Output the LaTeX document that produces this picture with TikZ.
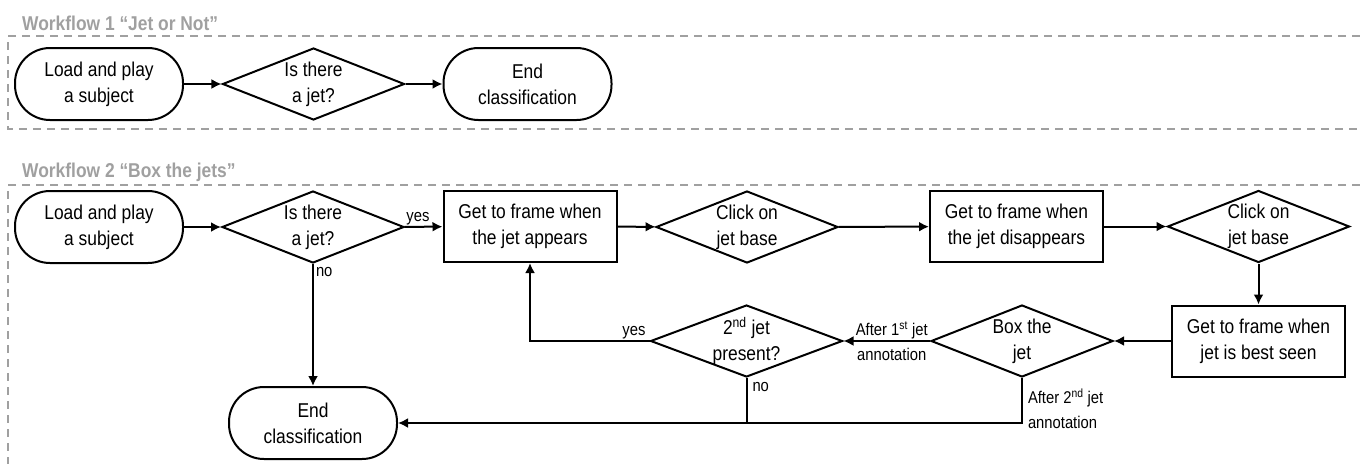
\documentclass[tikz,border=0pt]{standalone}
\usepackage{fontspec}
\setmainfont{Liberation Sans}[FakeStretch=0.87]
\usepackage{tikz}
\usetikzlibrary{shapes.geometric}
\usetikzlibrary{arrows.meta}
\definecolor{wfgray}{RGB}{160,160,160}

\newcommand{\boxfont}{\fontsize{20}{26}\selectfont}
\newcommand{\notefont}{\fontsize{17}{24.5}\selectfont}

\tikzset{
  terminal/.style={draw, line width=2pt, rectangle, rounded corners=35pt, minimum width=168pt, minimum height=72pt, align=center, font=\boxfont},
  process/.style={draw, line width=2pt, rectangle, minimum width=173pt, minimum height=71pt, align=center, font=\boxfont},
  decision/.style={draw, line width=2pt, diamond, inner sep=0pt, minimum width=182pt, minimum height=72pt},
  dtext/.style={align=center, font=\boxfont, inner sep=0pt},
  flow/.style={line width=2pt, -{Latex[length=10pt,width=10pt]}},
  note/.style={font=\notefont, inner sep=1pt},
  wfframe/.style={wfgray, line width=1.5pt, dash pattern=on 8pt off 6pt},
  wfheading/.style={wfgray, font=\fontsize{20}{22}\selectfont\bfseries, anchor=base west, inner sep=0pt},
}

\begin{document}
\begin{tikzpicture}[x=1pt, y=-1pt]

\useasboundingbox (0,0) rectangle (1360,464);

% Draw the two dashed frames and their titles
\draw [wfframe] (1360,36) -- (8,36) -- (8,129) -- (1360,129);
\draw [wfframe] (1360,185) -- (8,185) -- (8,464);
\node [wfheading] (title1) at (22,30) {Workflow 1 “Jet or Not”};
\node [wfheading] (title2) at (22,177) {Workflow 2 “Box the jets”};

% Workflow 1
\node [terminal] (w1load) at ( 99, 84) {Load and play\\a subject};
\node [decision, label={[dtext]center:{Is there\\a jet?}}] (w1jet) at (313.5, 84) {};
\node [terminal] (w1end) at (527.5, 84) {End\\classification};

\draw [flow] (w1load) -- (w1jet);
\draw [flow] (w1jet) -- (w1end);

% Workflow 2, first row
\node [terminal] (load) at ( 99, 227) {Load and play\\a subject};
\node [decision, label={[dtext]center:{Is there\\a jet?}}] (jet) at (313, 227) {};
\node [process] (appear) at (530, 226.5) {Get to frame when\\the jet appears};
\node [decision, label={[dtext]center:{Click on\\jet base}}] (click1) at (747, 227) {};
\node [process] (disappear) at (1016.5, 226.5) {Get to frame when\\the jet disappears};
\node [decision, label={[dtext]center:{Click on\\jet base}}] (click2) at (1258.5, 226.5) {};

% Workflow 2, second row
\node [process] (best) at (1258.5, 341) {Get to frame when\\jet is best seen};
\node [decision, label={[dtext]center:{Box the\\jet}}] (boxjet) at (1022, 341) {};
\node [decision, minimum width=192pt, label={[dtext]center:{2\textsuperscript{nd} jet\\present?}}] (second) at (746.5, 341) {};
\node [terminal] (end) at (313, 423) {End\\classification};

\draw [flow] (load) -- (jet);
\draw [flow] (jet) -- node[note, pos=0, anchor=south west] {yes} (appear);
\draw [flow] (jet) -- node[note, pos=0, anchor=north west, inner sep=2pt] {no} (end);
\draw [flow] (appear) -- (click1);
\draw [flow] (click1) -- (disappear);
\draw [flow] (disappear) -- (click2);
\draw [flow] (click2) -- (best);
\draw [flow] (best) -- (boxjet);
\draw [flow] (boxjet) -- node[note, align=center, xshift=5pt] {After 1\textsuperscript{st} jet\\annotation} (second);
\draw [flow] (second.west) -- node[note, pos=0, anchor=south east, xshift=-2pt] {yes} (second.west -| appear.south) -- (appear.south);
\draw [line width=2pt] (second.south) -- node[note, pos=0, anchor=north west, xshift=4pt, yshift=-2pt] {no} (second.south |- end.east);
\draw [flow] (boxjet.south) -- node[note, pos=0, anchor=north west, align=left, xshift=4pt, yshift=-9pt] {After 2\textsuperscript{nd} jet\\annotation} (boxjet.south |- end.east) -- (end.east);

\end{tikzpicture}
\end{document}
